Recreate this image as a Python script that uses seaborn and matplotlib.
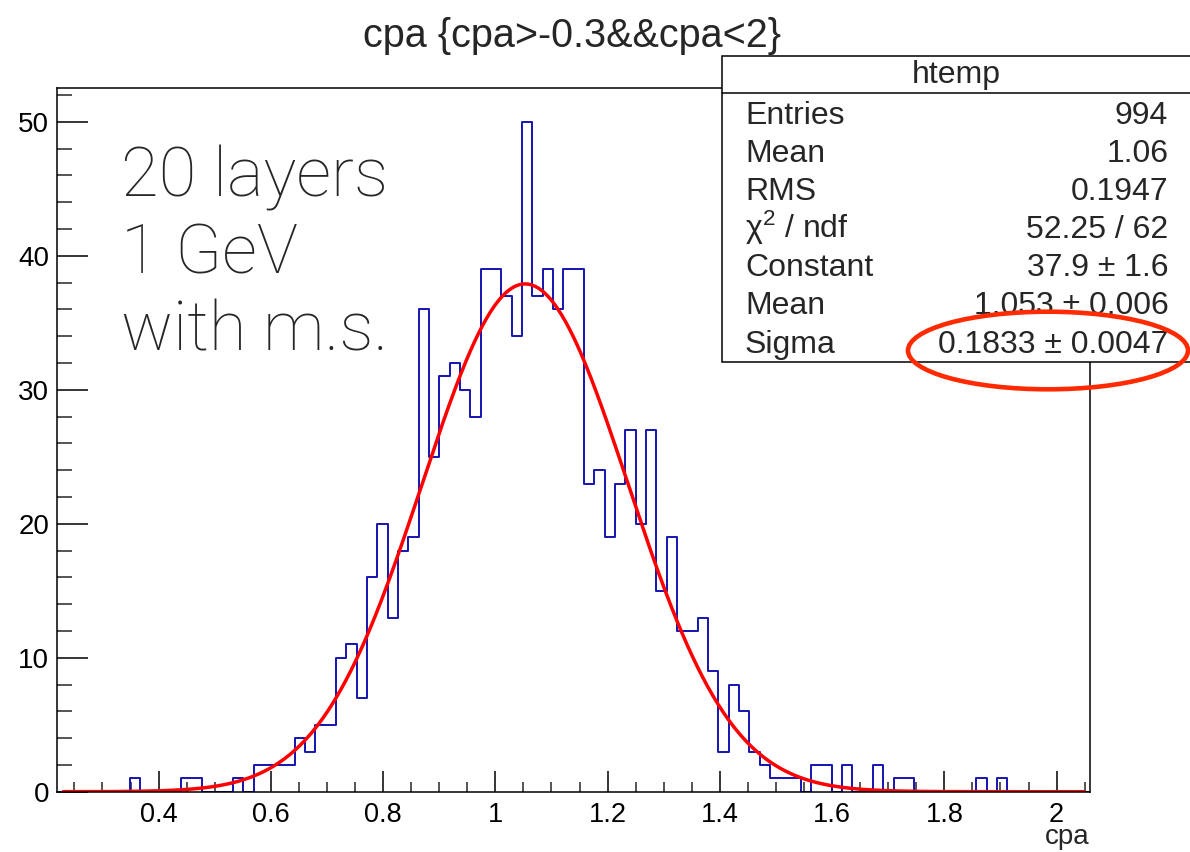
import numpy as np
import pandas as pd
import matplotlib
matplotlib.use("Agg")
import matplotlib.pyplot as plt
import seaborn as sns
from matplotlib.patches import Rectangle, Ellipse
from matplotlib.lines import Line2D
from matplotlib.ticker import MultipleLocator

# ---------------- data ----------------
hist_name = "htemp"
title_text = "cpa {cpa>-0.3&&cpa<2}"
x_label = "cpa"
x_min, x_max, n_bins = 0.2195, 2.0595, 100
counts = [
    0, 0, 0, 0, 0, 0, 0, 1, 0, 0,
    0, 0, 1, 1, 0, 0, 0, 1, 0, 2,
    2, 2, 2, 4, 3, 5, 5, 10, 11, 7,
    16, 20, 13, 18, 19, 36, 25, 31, 32, 30,
    28, 39, 39, 37, 34, 50, 37, 39, 36, 39,
    39, 23, 24, 19, 23, 27, 20, 27, 15, 19,
    12, 12, 13, 9, 3, 8, 6, 3, 2, 1,
    1, 1, 0, 2, 2, 0, 2, 0, 0, 2,
    0, 1, 1, 0, 0, 0, 0, 0, 0, 1,
    0, 1, 0, 0, 0, 0, 0, 0, 0, 0,
]
fit_constant, fit_mean, fit_sigma = 37.9, 1.053, 0.1833
fit_range = (0.23, 2.05)
stats_labels = ["Entries", "Mean", "RMS", "\u03c7$^{2}$ / ndf", "Constant", "Mean", "Sigma"]
stats_values = ["994", "1.06", "0.1947", "52.25 / 62", "37.9 \u00b1 1.6",
                "1.053 \u00b1 0.006", "0.1833 \u00b1 0.0047"]
note_lines = ["20 layers", "1 GeV", "with m.s."]
x_ticks = [0.4, 0.6, 0.8, 1.0, 1.2, 1.4, 1.6, 1.8, 2.0]
x_tick_labels = ["0.4", "0.6", "0.8", "1", "1.2", "1.4", "1.6", "1.8", "2"]
y_ticks = [0, 10, 20, 30, 40, 50]
y_max = 52.5

# ---------------- style ----------------
sns.set_style("white")
plt.rcParams["font.family"] = ["Liberation Sans", "DejaVu Sans"]
plt.rcParams["mathtext.fontset"] = "custom"
plt.rcParams["mathtext.rm"] = "Liberation Sans"
plt.rcParams["mathtext.it"] = "Liberation Sans"

W, H = 1190, 852
def fx(px):
    return px / W
def fy(py):
    return 1 - py / H

fig = plt.figure(figsize=(W / 100, H / 100), dpi=100)
fig.patch.set_facecolor("white")
ax_l, ax_r, ax_t, ax_b = 57.3, 1090.0, 88.3, 791.7
ax = fig.add_axes([fx(ax_l), fy(ax_b), (ax_r - ax_l) / W, (ax_b - ax_t) / H])
ax.set_facecolor("white")

edges = [float(e) for e in np.linspace(x_min, x_max, n_bins + 1)]
centers = [0.5 * (a + b) for a, b in zip(edges[:-1], edges[1:])]
df = pd.DataFrame({"cpa": centers, "n": counts})
sns.histplot(data=df, x="cpa", weights="n", bins=edges, element="step",
             fill=False, color="#1414b0", linewidth=1.4, ax=ax)

xs = np.linspace(fit_range[0], fit_range[1], 800)
ys = fit_constant * np.exp(-0.5 * ((xs - fit_mean) / fit_sigma) ** 2)
sns.lineplot(x=xs, y=ys, color="#ff0000", linewidth=2.5, ax=ax,
             estimator=None, sort=False)

ax.set_xlim(x_min, x_max)
ax.set_ylim(0, y_max)
ax.set_xlabel("")
ax.set_ylabel("")
ax.set_xticks(x_ticks)
ax.set_xticklabels(x_tick_labels)
ax.set_yticks(y_ticks)
ax.xaxis.set_minor_locator(MultipleLocator(0.05))
ax.yaxis.set_minor_locator(MultipleLocator(2))
ax.tick_params(axis="x", which="major", direction="in", length=14.9, width=1.1,
               labelsize=19.5, pad=7.5, top=False, bottom=True, colors="black")
ax.tick_params(axis="x", which="minor", direction="in", length=7.2, width=1.1,
               top=False, bottom=True)
ax.tick_params(axis="y", which="major", direction="in", length=22.3, width=1.1,
               labelsize=20, pad=5.8, left=True, right=False, colors="black")
ax.tick_params(axis="y", which="minor", direction="in", length=10.8, width=1.1,
               left=True, right=False)
for s in ax.spines.values():
    s.set_visible(True)
    s.set_color("black")
    s.set_linewidth(1.1)

# axis title
fig.text(fx(1089), fy(844), x_label, ha="right", va="baseline", fontsize=20)

# title
fig.text(fx(571.7), fy(46.7), title_text, ha="center", va="baseline", fontsize=28.5)

# annotation text
for i, line in enumerate(note_lines):
    fig.text(fx(121), fy(196.7 + i * 77), line, ha="left", va="baseline",
             fontsize=49.5, family=["Roboto", "Liberation Sans"], fontweight="light")

# stats box
box_l, box_t, box_b, box_hdr = 721.7, 55.7, 361.7, 93.3
fig.add_artist(Rectangle((fx(box_l), fy(box_b)), (W + 20 - box_l) / W, (box_b - box_t) / H,
                         transform=fig.transFigure, facecolor="white", edgecolor="black",
                         linewidth=1.1, zorder=5, clip_on=False))
fig.add_artist(Line2D([fx(box_l), 1.02], [fy(box_hdr), fy(box_hdr)],
                      transform=fig.transFigure, color="black", linewidth=1.1, zorder=6))
fig.text(fx(956.7), fy(83.5), hist_name, ha="center", va="baseline", fontsize=23, zorder=7)
for i, (lab, val) in enumerate(zip(stats_labels, stats_values)):
    yb = 124 + i * 38.1
    fig.text(fx(745), fy(yb), lab, ha="left", va="baseline", fontsize=23, zorder=7)
    fig.text(fx(1168.3), fy(yb), val, ha="right", va="baseline", fontsize=23, zorder=7)

# red ellipse highlight
fig.add_artist(Ellipse((fx(1048), fy(350.5)), 280 / W, 77.6 / H,
                       transform=fig.transFigure, fill=False, edgecolor="#ff2a00",
                       linewidth=3.3, zorder=8))

fig.savefig("out.png", dpi=100, facecolor="white")
